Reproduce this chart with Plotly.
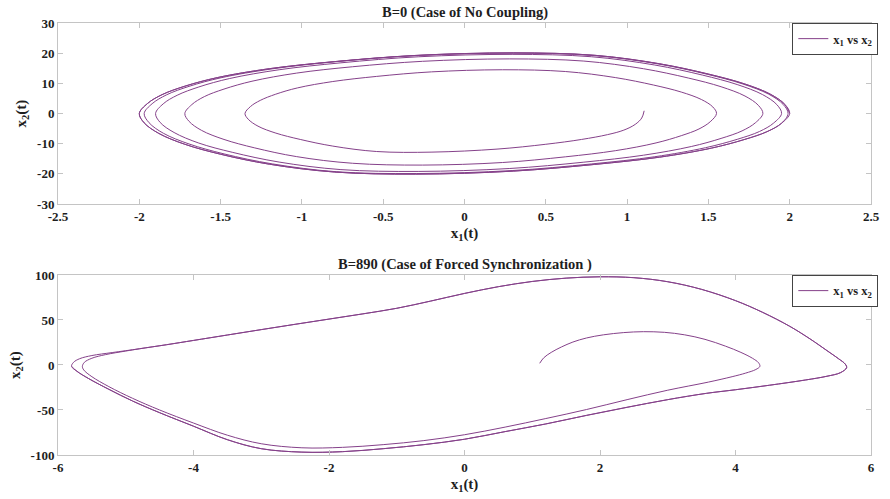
import plotly.graph_objects as go

# ---------------- Top panel (B=0): trajectory points ----------------
# each list is one half-turn of the spiral (clockwise), (x1, x2) pairs
TOP_H0 = [(1.105, 0.9), (1.09, -1.5), (1.05, -3.6), (0.98, -5.5), (0.88, -7.0), (0.72, -8.6), (0.5, -10.2),
          (0.2, -11.8), (-0.2, -12.8), (-0.54, -12.6), (-0.81, -10.8), (-1.01, -8.6), (-1.16, -6.5),
          (-1.27, -4.2), (-1.33, -1.9), (-1.35, 0)]
TOP_H1 = [(-1.316, 2.32), (-1.256, 4.35), (-1.161, 6.4), (-1.026, 8.5), (-0.81, 10.6), (-0.54, 12.3),
          (-0.203, 13.8), (0.233, 14.5), (0.62, 13.92), (0.93, 11.89), (1.163, 9.43), (1.333, 7.11),
          (1.457, 4.64), (1.527, 2.18), (1.55, 0)]
TOP_H2 = [(1.511, -2.74), (1.442, -5.13), (1.333, -7.35), (1.178, -9.75), (0.93, -12.31), (0.62, -14.36),
          (0.233, -16.25), (-0.258, -17.1), (-0.688, -16.5), (-1.032, -14.3), (-1.29, -11.4),
          (-1.479, -8.6), (-1.617, -5.6), (-1.694, -2.6), (-1.72, 0)]
TOP_H3 = [(-1.677, 2.95), (-1.60, 5.6), (-1.479, 8.1), (-1.307, 10.7), (-1.032, 13.4), (-0.688, 15.5),
          (-0.258, 17.3), (0.275, 18.1), (0.734, 17.38), (1.101, 14.84), (1.376, 11.77), (1.578, 8.87),
          (1.725, 5.79), (1.807, 2.72), (1.835, 0)]
TOP_H4 = [(1.789, -3.07), (1.707, -5.76), (1.578, -8.26), (1.395, -10.94), (1.101, -13.82), (0.734, -16.13),
          (0.275, -18.24), (-0.285, -19.2), (-0.76, -18.6), (-1.14, -16.1), (-1.425, -12.9),
          (-1.634, -9.8), (-1.786, -6.3), (-1.872, -2.95), (-1.90, 0)]
TOP_H5 = [(-1.853, 3.2), (-1.767, 6.05), (-1.634, 8.8), (-1.444, 11.6), (-1.14, 14.5), (-0.76, 16.8),
          (-0.285, 18.8), (0.293, 19.6), (0.78, 18.82), (1.17, 16.07), (1.463, 12.74), (1.677, 9.60),
          (1.833, 6.27), (1.921, 2.94), (1.95, 0)]
TOP_H6 = [(1.901, -3.18), (1.814, -5.97), (1.677, -8.56), (1.482, -11.34), (1.17, -14.33), (0.78, -16.72),
          (0.293, -18.91), (-0.296, -19.9), (-0.788, -19.3), (-1.182, -16.7), (-1.478, -13.4),
          (-1.694, -10.1), (-1.852, -6.55), (-1.940, -3.05), (-1.97, 0)]
TOP_H7 = [(-1.921, 3.25), (-1.832, 6.2), (-1.694, 9.0), (-1.497, 11.85), (-1.182, 14.8), (-0.788, 17.2),
          (-0.296, 19.2), (0.299, 20.0), (0.796, 19.2), (1.194, 16.4), (1.493, 13.0), (1.711, 9.8),
          (1.871, 6.4), (1.960, 3.0), (1.99, 0)]
TOP_LIMIT_LOW = [(1.95, -3.22), (1.86, -6.03), (1.72, -8.64), (1.52, -11.46), (1.2, -14.47), (0.8, -16.88),
                 (0.3, -19.10), (-0.3, -20.1), (-0.8, -19.4), (-1.2, -16.8), (-1.5, -13.5),
                 (-1.72, -10.2), (-1.88, -6.6), (-1.97, -3.1), (-2.0, 0)]
TOP_LIMIT_UP = [(-1.95, 3.3), (-1.86, 6.25), (-1.72, 9.05), (-1.52, 11.9), (-1.2, 14.85), (-0.8, 17.2),
                (-0.3, 19.25), (0.3, 20.1), (0.8, 19.30), (1.2, 16.48), (1.5, 13.07), (1.72, 9.85),
                (1.88, 6.43), (1.97, 3.02), (2.0, 0)]

top_path = (TOP_H0 + TOP_H1 + TOP_H2 + TOP_H3 + TOP_H4 + TOP_H5 + TOP_H6 + TOP_H7
            + TOP_LIMIT_LOW + TOP_LIMIT_UP + TOP_LIMIT_LOW + TOP_LIMIT_UP)
top_x1 = [p[0] for p in top_path]
top_x2 = [p[1] for p in top_path]

# ---------------- Bottom panel (B=890) ----------------
BOT_START = [(1.11, 1.9), (1.17, 8), (1.28, 14), (1.43, 20), (1.6, 25.5), (1.8, 30), (2.05, 33.5),
             (2.35, 36), (2.64, 37), (2.95, 36.3), (3.25, 33.5), (3.55, 28.5), (3.85, 21), (4.08, 14),
             (4.25, 7.5), (4.34, 2.5), (4.36, -1.5)]
BOT_INNER_LOW = [(4.3, -5), (4.15, -9), (3.95, -13), (3.6, -19), (3.0, -28), (2.4, -38.5), (1.8, -49.5),
                 (1.2, -59.5), (0.6, -69), (0.0, -77.5), (-0.6, -84), (-1.2, -88.5), (-1.8, -91.5),
                 (-2.4, -92), (-3.0, -87.5), (-3.5, -78), (-4.0, -64.5), (-4.5, -50), (-4.9, -37),
                 (-5.25, -24), (-5.5, -13), (-5.62, -5.5), (-5.64, -1.5)]
BOT_TURN_INNER = [(-5.61, 3), (-5.5, 7.5), (-5.3, 11.5), (-5.0, 15.5)]
BOT_TURN_OUTER = [(-5.77, 3), (-5.68, 7), (-5.5, 10.5), (-5.2, 13.8)]
BOT_UPPER = [(-4.8, 18), (-4.4, 22.5), (-4.0, 27.3), (-3.5, 33.3), (-3.0, 39.3), (-2.5, 45.2), (-2.0, 51),
             (-1.5, 56.8), (-1.0, 63), (-0.5, 71), (0.0, 79.5), (0.5, 87), (1.0, 92.8), (1.5, 96.5),
             (2.0, 98), (2.5, 97), (3.0, 92.5), (3.5, 84), (4.0, 71.5), (4.4, 58.5), (4.8, 43),
             (5.1, 29), (5.35, 16), (5.52, 7), (5.62, 1), (5.64, -3)]
BOT_OUTER_LOW = [(5.55, -8.5), (5.35, -12.5), (5.03, -16.7), (4.5, -22.5), (4.0, -27.5), (3.57, -31.5),
                 (3.0, -38.5), (2.4, -47), (1.8, -56), (1.2, -65.5), (0.6, -74), (0.0, -82.5),
                 (-0.6, -88.5), (-1.2, -93), (-1.8, -96.3), (-2.4, -96.8), (-3.0, -93), (-3.5, -83),
                 (-4.0, -68), (-4.5, -53), (-4.9, -40), (-5.25, -27), (-5.55, -15), (-5.72, -7),
                 (-5.8, -1.5)]

bot_path = (BOT_START + BOT_INNER_LOW + BOT_TURN_INNER + BOT_UPPER + BOT_OUTER_LOW
            + BOT_TURN_OUTER + BOT_UPPER + BOT_OUTER_LOW)
bot_x1 = [p[0] for p in bot_path]
bot_x2 = [p[1] for p in bot_path]

# ---------------- ticks / text ----------------
TOP_XTICKS = [-2.5, -2, -1.5, -1, -0.5, 0, 0.5, 1, 1.5, 2, 2.5]
TOP_XLABELS = ["-2.5", "-2", "-1.5", "-1", "-0.5", "0", "0.5", "1", "1.5", "2", "2.5"]
TOP_YTICKS = [-30, -20, -10, 0, 10, 20, 30]
TOP_YLABELS = ["-30", "-20", "-10", "0", "10", "20", "30"]
BOT_XTICKS = [-6, -4, -2, 0, 2, 4, 6]
BOT_XLABELS = ["-6", "-4", "-2", "0", "2", "4", "6"]
BOT_YTICKS = [-100, -50, 0, 50, 100]
BOT_YLABELS = ["-100", "-50", "0", "50", "100"]
TITLE_TOP = "B=0 (Case of No Coupling)"
TITLE_BOT = "B=890 (Case of Forced Synchronization )"
LEGEND_NAME = "x<sub>1</sub> vs x<sub>2</sub>"
XTITLE = "x<sub>1</sub>(t)"
YTITLE = "x<sub>2</sub>(t)"

LINE_COLOR = "#85418a"
FONT = "Liberation Serif"
TXT = "#1e1e1e"

fig = go.Figure()
fig.add_trace(go.Scatter(x=top_x1, y=top_x2, mode="lines", name=LEGEND_NAME,
                         line=dict(color=LINE_COLOR, width=1.0, shape="spline", smoothing=1.0),
                         xaxis="x", yaxis="y", legend="legend"))
fig.add_trace(go.Scatter(x=bot_x1, y=bot_x2, mode="lines", name=LEGEND_NAME,
                         line=dict(color=LINE_COLOR, width=1.0, shape="spline", smoothing=1.0),
                         xaxis="x2", yaxis="y2", legend="legend2"))

TOP_DOM = [0.581, 1.0]
BOT_DOM = [0.0, 0.4167]

axis_common = dict(showgrid=False, zeroline=False, showline=True, linecolor="#c4c4c4", linewidth=1,
                   mirror="ticks", ticks="inside", ticklen=5, tickcolor="#c4c4c4",
                   tickfont=dict(family=FONT, size=13, color=TXT, weight="bold"))
title_font = dict(family=FONT, size=15, color=TXT, weight="bold")
legend_common = dict(xanchor="right", yanchor="top", bgcolor="white", bordercolor="#444444",
                     borderwidth=1, itemwidth=30, tracegroupgap=0,
                     font=dict(family=FONT, size=12.5, color=TXT, weight="bold"))

fig.update_layout(
    width=890, height=499,
    margin=dict(l=58, r=10, t=23, b=44),
    paper_bgcolor="white", plot_bgcolor="white",
    xaxis=dict(domain=[0, 1], anchor="y", range=[-2.5, 2.5], tickvals=TOP_XTICKS, ticktext=TOP_XLABELS,
               title=dict(text=XTITLE, standoff=4, font=title_font), **axis_common),
    yaxis=dict(domain=TOP_DOM, anchor="x", range=[-30, 30], tickvals=TOP_YTICKS, ticktext=TOP_YLABELS,
               title=dict(text=YTITLE, standoff=6, font=title_font), **axis_common),
    xaxis2=dict(domain=[0, 1], anchor="y2", range=[-6, 6], tickvals=BOT_XTICKS, ticktext=BOT_XLABELS,
                title=dict(text=XTITLE, standoff=4, font=title_font), **axis_common),
    yaxis2=dict(domain=BOT_DOM, anchor="x2", range=[-100, 100], tickvals=BOT_YTICKS, ticktext=BOT_YLABELS,
                title=dict(text=YTITLE, standoff=6, font=title_font), **axis_common),
    legend=dict(x=1.009, y=TOP_DOM[1], **legend_common),
    legend2=dict(x=1.009, y=BOT_DOM[1], **legend_common),
    annotations=[
        dict(text=TITLE_TOP, x=0.5, y=TOP_DOM[1], xref="paper", yref="paper", xanchor="center",
             yanchor="bottom", yshift=0, showarrow=False,
             font=dict(family=FONT, size=14.5, color=TXT, weight="bold")),
        dict(text=TITLE_BOT, x=0.5, y=BOT_DOM[1], xref="paper", yref="paper", xanchor="center",
             yanchor="bottom", yshift=0, showarrow=False,
             font=dict(family=FONT, size=14.5, color=TXT, weight="bold")),
    ],
    showlegend=True,
)

fig.write_html("out.html")
